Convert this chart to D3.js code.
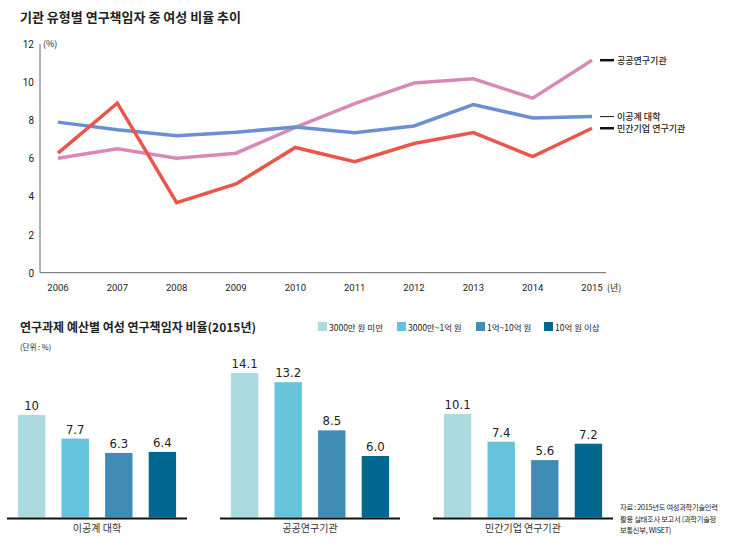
<!DOCTYPE html>
<html><head><meta charset="utf-8">
<script src="https://cdn.jsdelivr.net/npm/d3@7"></script>
<style>
body{margin:0;background:#fff;}
svg{display:block;font-family:"Noto Sans CJK KR","Noto Sans",sans-serif;}
</style></head>
<body>
<script>
// ---- Line chart data ----
const years = ["2006","2007","2008","2009","2010","2011","2012","2013","2014","2015"];
const yTicks = [0,2,4,6,8,10,12];
const seriesNames = ["공공연구기관","이공계 대학","민간기업 연구기관"];
const publicInst = [6.0,6.5,6.0,6.27,7.62,8.87,9.95,10.17,9.16,11.15];
const university = [7.9,7.5,7.18,7.37,7.65,7.35,7.7,8.82,8.12,8.19];
const privateInst = [6.27,8.9,3.68,4.66,6.57,5.83,6.78,7.35,6.09,7.58];
const lineColors = ["#d78ab6","#6b8fd0","#e8574a"];

// ---- Bar chart data ----
const groups = ["이공계 대학","공공연구기관","민간기업 연구기관"];
const budgetCats = ["3000만 원 미만","3000만~1억 원","1억~10억 원","10억 원 이상"];
const univBars = [10,7.7,6.3,6.4];
const publicBars = [14.1,13.2,8.5,6.0];
const privateBars = [10.1,7.4,5.6,7.2];
const barLabels = [["10","7.7","6.3","6.4"],["14.1","13.2","8.5","6.0"],["10.1","7.4","5.6","7.2"]];
const barColors = ["#abdbe0","#66c3dc","#3f8db6","#02678f"];

const W=735,H=547;
const svg=d3.select("body").append("svg").attr("width",W).attr("height",H);

// Title
svg.append("text").attr("x",20).attr("y",22).attr("font-size",13).attr("font-weight","bold")
  .attr("fill","#222").text("기관 유형별 연구책임자 중 여성 비율 추이");

// Scales
const x=d3.scalePoint().domain(years).range([58,592]);
const y=d3.scaleLinear().domain([0,12]).range([272.7,44]);

svg.append("line").attr("x1",40).attr("x2",40).attr("y1",y(12)).attr("y2",y(0)).attr("stroke","#666").attr("stroke-width",1);
svg.append("line").attr("x1",40).attr("x2",606).attr("y1",y(0)).attr("y2",y(0)).attr("stroke","#666").attr("stroke-width",1);

svg.append("g").selectAll("text").data(yTicks).join("text")
  .attr("x",34).attr("y",d=>y(d)+4).attr("text-anchor","end").attr("font-size",10).attr("fill","#222")
  .attr("font-family","Roboto, sans-serif").text(d=>d);
svg.append("text").attr("x",43).attr("y",y(12)+3).attr("font-size",9).attr("fill","#222").text("(%)");

svg.append("g").selectAll("text").data(years).join("text")
  .attr("x",d=>x(d)).attr("y",291).attr("text-anchor","middle").attr("font-size",9.5).attr("fill","#222")
  .attr("font-family","Roboto, sans-serif").text(d=>d);
svg.append("text").attr("x",607).attr("y",291).attr("font-size",9).attr("fill","#222").text("(년)");

const allSeries=[publicInst,university,privateInst];
const line=d3.line().x((d,i)=>x(years[i])).y(d=>y(d));
allSeries.forEach((s,k)=>{
  svg.append("path").attr("d",line(s)).attr("fill","none").attr("stroke",lineColors[k])
    .attr("stroke-width",3.5).attr("stroke-linejoin","miter");
});
const legWidths=[2.5,1,2.5];
allSeries.forEach((s,k)=>{
  const yy=y(s[s.length-1]);
  svg.append("line").attr("x1",600).attr("x2",614).attr("y1",yy).attr("y2",yy).attr("stroke","#111").attr("stroke-width",legWidths[k]);
  svg.append("text").attr("x",617).attr("y",yy+3.5).attr("font-size",9).attr("fill","#222").attr("font-weight",500).text(seriesNames[k]);
});

// ---- Bar chart ----
svg.append("text").attr("x",20).attr("y",332).attr("font-size",12).attr("font-weight","bold")
  .attr("fill","#222").text("연구과제 예산별 여성 연구책임자 비율(2015년)");
svg.append("text").attr("x",20).attr("y",350).attr("font-size",7.5).attr("fill","#222").text("(단위 : %)");

const legX=[318,397,476,544];
budgetCats.forEach((c,i)=>{
  svg.append("rect").attr("x",legX[i]).attr("y",322).attr("width",9).attr("height",9).attr("fill",barColors[i]);
  svg.append("text").attr("x",legX[i]+11).attr("y",330.5).attr("font-size",8.5).attr("fill","#222").text(c);
});

const gx=d3.scaleBand().domain(groups).range([7,613]).paddingInner(0.155).paddingOuter(0);
const yb=d3.scaleLinear().domain([0,14.1]).range([517.5,373]);
const barData=[univBars,publicBars,privateBars];
groups.forEach((g,gi)=>{
  const x0=gx(g), bw=gx.bandwidth();
  const xb=d3.scaleBand().domain(budgetCats).range([x0,x0+bw]).paddingInner(0.372).paddingOuter(0.25);
  const gg=svg.append("g");
  gg.selectAll("rect").data(barData[gi]).join("rect")
    .attr("x",(d,i)=>xb(budgetCats[i])).attr("width",xb.bandwidth())
    .attr("y",d=>yb(d)).attr("height",d=>yb(0)-yb(d)).attr("fill",(d,i)=>barColors[i]);
  gg.selectAll("text.v").data(barData[gi]).join("text").attr("class","v")
    .attr("x",(d,i)=>xb(budgetCats[i])+xb.bandwidth()/2).attr("y",d=>yb(d)-5)
    .attr("text-anchor","middle").attr("font-size",13).attr("fill","#222")
    .attr("font-family","'Liberation Sans Narrow','DejaVu Sans Condensed',sans-serif")
    .text((d,i)=>barLabels[gi][i]);
  gg.append("line").attr("x1",x0).attr("x2",x0+bw).attr("y1",yb(0)+1).attr("y2",yb(0)+1).attr("stroke","#111").attr("stroke-width",2.2);
  gg.append("text").attr("x",x0+bw/2).attr("y",532).attr("text-anchor","middle").attr("font-size",10).attr("fill","#333").text(g);
});

const src=["자료 : 2015년도 여성과학기술인력","활용 실태조사 보고서 (과학기술정","보통신부, WISET)"];
svg.append("g").selectAll("text").data(src).join("text").attr("x",620).attr("y",(d,i)=>510+i*11.5)
  .attr("font-size",7.3).attr("fill","#222").attr("letter-spacing",-0.3).text(d=>d);
</script>
</body></html>
